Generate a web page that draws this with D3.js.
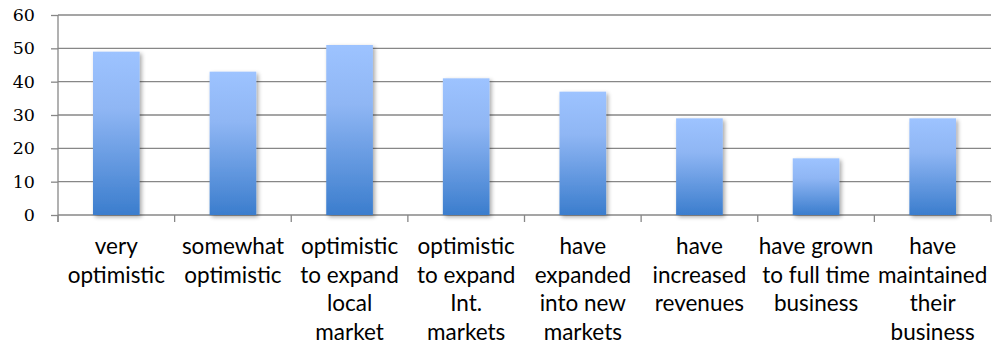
<!DOCTYPE html>
<html>
<head>
<meta charset="utf-8">
<script src="https://cdn.jsdelivr.net/npm/d3@7"></script>
<style>
  html, body { margin: 0; padding: 0; background: #fff; }
  svg { display: block; }
  .y-axis text { font-family: "DejaVu Serif", "Liberation Serif", serif; font-size: 17.5px; fill: #000; }
  .cat-label { font-family: Lato, "Open Sans", sans-serif; font-size: 22.5px; fill: #000; }
</style>
</head>
<body>
<svg id="chart" width="995" height="347"></svg>
<script>
// Survey results: share of respondents per statement
const categories = [
  ["very", "optimistic"],
  ["somewhat", "optimistic"],
  ["optimistic", "to expand", "local", "market"],
  ["optimistic", "to expand", "Int.", "markets"],
  ["have", "expanded", "into new", "markets"],
  ["have", "increased", "revenues"],
  ["have grown", "to full time", "business"],
  ["have", "maintained", "their", "business"]
];
const values = [49, 43, 51, 41, 37, 29, 17, 29];
const yTicks = [0, 10, 20, 30, 40, 50, 60];

const width = 995, height = 347;
const margin = { left: 58, right: 4, top: 15, bottom: 132 };

const svg = d3.select("#chart");
const defs = svg.append("defs");

const grad = defs.append("linearGradient")
  .attr("id", "barFill").attr("x1", 0).attr("y1", 0).attr("x2", 0).attr("y2", 1);
grad.append("stop").attr("offset", "0%").attr("stop-color", "#9dc3ff");
grad.append("stop").attr("offset", "35%").attr("stop-color", "#8fb6f4");
grad.append("stop").attr("offset", "100%").attr("stop-color", "#3b7dcd");

const shadow = defs.append("filter").attr("id", "barShadow")
  .attr("x", "-20%").attr("y", "-10%").attr("width", "150%").attr("height", "130%");
shadow.append("feGaussianBlur").attr("in", "SourceAlpha").attr("stdDeviation", 2).attr("result", "blur");
shadow.append("feOffset").attr("in", "blur").attr("dx", 1.5).attr("dy", 1.5).attr("result", "off");
shadow.append("feComponentTransfer").attr("in", "off").attr("result", "soft")
  .append("feFuncA").attr("type", "linear").attr("slope", 0.35);
const merge = shadow.append("feMerge");
merge.append("feMergeNode").attr("in", "soft");
merge.append("feMergeNode").attr("in", "SourceGraphic");

const x = d3.scaleBand()
  .domain(d3.range(categories.length))
  .range([margin.left, width - margin.right])
  .paddingInner(0.6).paddingOuter(0.3);

const y = d3.scaleLinear()
  .domain([0, 60])
  .range([height - margin.bottom, margin.top]);

const gridColor = "#878787";

// Value axis: tick stubs to the left of the axis, serif labels
svg.append("g")
  .attr("class", "y-axis")
  .attr("transform", `translate(${margin.left},0)`)
  .call(d3.axisLeft(y).tickValues(yTicks).tickSize(7).tickPadding(16)
    .tickFormat(d3.format("d")))
  .call(g => g.attr("font-family", null).attr("font-size", null))
  .call(g => g.select(".domain").remove())
  .call(g => g.selectAll(".tick line").attr("stroke", gridColor).attr("stroke-width", 1.3));

// Horizontal gridlines
svg.append("g")
  .selectAll("line")
  .data(yTicks)
  .join("line")
  .attr("x1", margin.left).attr("x2", width - margin.right)
  .attr("y1", d => y(d)).attr("y2", d => y(d))
  .attr("stroke", gridColor).attr("stroke-width", 1.3);

// Vertical axis line
svg.append("line")
  .attr("x1", margin.left).attr("x2", margin.left)
  .attr("y1", y(60)).attr("y2", y(0) + 7)
  .attr("stroke", gridColor).attr("stroke-width", 1.3);

// Category boundary ticks below the baseline
const bounds = d3.range(categories.length + 1)
  .map(i => margin.left + i * (width - margin.right - margin.left) / categories.length);
svg.append("g")
  .selectAll("line")
  .data(bounds)
  .join("line")
  .attr("x1", d => d).attr("x2", d => d)
  .attr("y1", y(0)).attr("y2", y(0) + 7)
  .attr("stroke", gridColor).attr("stroke-width", 1.3);

// Bars
svg.append("g")
  .selectAll("rect")
  .data(values)
  .join("rect")
  .attr("x", (d, i) => x(i))
  .attr("width", x.bandwidth())
  .attr("y", d => y(d))
  .attr("height", d => y(0) - y(d))
  .attr("fill", "url(#barFill)")
  .attr("filter", "url(#barShadow)");

// Multi-line category labels
const labels = svg.append("g")
  .attr("text-anchor", "middle");

labels.selectAll("text")
  .data(categories)
  .join("text")
  .attr("class", "cat-label")
  .attr("x", (d, i) => x(i) + x.bandwidth() / 2)
  .attr("y", 254)
  .selectAll("tspan")
  .data(d => d)
  .join("tspan")
  .attr("x", function () { return d3.select(this.parentNode).attr("x"); })
  .attr("dy", (d, i) => i === 0 ? 0 : 28.7)
  .text(d => d);
</script>
</body>
</html>
